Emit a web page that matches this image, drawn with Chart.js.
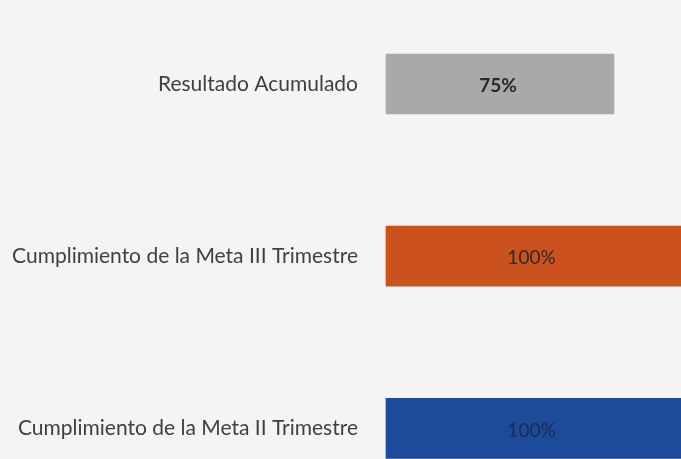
<!DOCTYPE html>
<html>
<head>
<meta charset="utf-8">
<script src="https://cdn.jsdelivr.net/npm/chart.js@4/dist/chart.umd.min.js"></script>
<style>
  html, body { margin: 0; padding: 0; background: #f4f4f5; overflow: hidden; }
  #wrap { width: 690px; height: 461px; }
</style>
</head>
<body>
<div id="wrap"><canvas id="chart"></canvas></div>
<script>
var categories = [
  "Resultado Acumulado",
  "Cumplimiento de la Meta III Trimestre",
  "Cumplimiento de la Meta II Trimestre"
];
var values = [75, 100, 100];
var barColors = ["#a9a9a9", "#cb521e", "#1c4b9c"];
var labelColors = ["#2a2a2a", "#2b2b2b", "#1e2a4a"];
var labelWeights = ["bold", "normal", "normal"];

// writes the percentage in the middle of the visible part of each bar
var barText = {
  id: "barText",
  afterDatasetsDraw: function (chart) {
    var ctx = chart.ctx;
    var meta = chart.getDatasetMeta(0);
    var right = chart.width - 9;
    ctx.save();
    ctx.textAlign = "center";
    ctx.textBaseline = "middle";
    meta.data.forEach(function (bar, i) {
      ctx.fillStyle = labelColors[i];
      ctx.font = labelWeights[i] + " 19px Lato";
      var end = Math.min(bar.x, right);
      ctx.fillText(values[i] + "%", (end + bar.base) / 2 - 2, bar.y + 2);
    });
    ctx.restore();
  }
};

var ctx = document.getElementById("chart");
new Chart(ctx, {
  type: "bar",
  data: {
    labels: categories,
    datasets: [{
      data: values,
      backgroundColor: barColors,
      barThickness: 60,
      borderWidth: 0,
      clip: false
    }]
  },
  options: {
    indexAxis: "y",
    responsive: true,
    maintainAspectRatio: false,
    animation: false,
    layout: { padding: { top: 84, bottom: 20, left: 0, right: 0 } },
    plugins: { legend: { display: false }, tooltip: { enabled: false } },
    scales: {
      x: { min: 0, max: 100, display: false },
      y: {
        offset: false,
        grid: { display: false },
        border: { display: false },
        afterFit: function (scale) { scale.width = 386; },
        ticks: {
          padding: 20,
          color: "#404040",
          font: { family: "Lato", size: 21 }
        }
      }
    }
  },
  plugins: [barText]
});
</script>
</body>
</html>
